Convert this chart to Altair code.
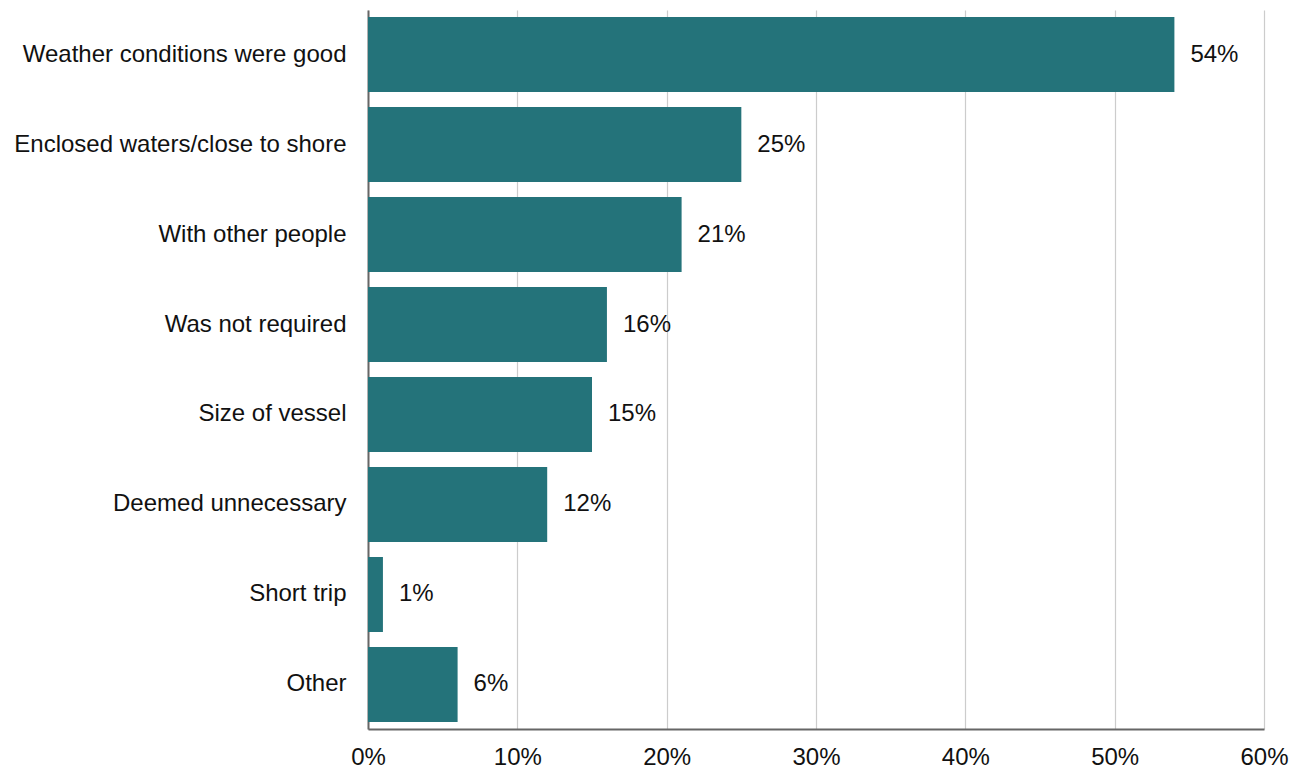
import altair as alt
import pandas as pd

categories = ["Weather conditions were good", "Enclosed waters/close to shore", "With other people",
              "Was not required", "Size of vessel", "Deemed unnecessary", "Short trip", "Other"]
values = [54, 25, 21, 16, 15, 12, 1, 6]
labels = ["54%", "25%", "21%", "16%", "15%", "12%", "1%", "6%"]

df = pd.DataFrame({"cat": categories, "val": [v / 100 for v in values], "lab": labels})

FONT = "Liberation Sans"
FS = 24

y = alt.Y("cat:N", sort=categories, title=None,
          scale=alt.Scale(paddingInner=0.167, paddingOuter=0.078),
          axis=alt.Axis(labelFont=FONT, labelFontSize=FS, labelColor="#111111", labelPadding=22,
                        ticks=False, grid=False, domainColor="#666666", domainWidth=2, labelLimit=400))
x = alt.X("val:Q", title=None, scale=alt.Scale(domain=[0, 0.6], nice=False),
          axis=alt.Axis(format=".0%", values=[0, 0.1, 0.2, 0.3, 0.4, 0.5, 0.6], labelFont=FONT,
                        labelFontSize=FS, labelColor="#111111", labelPadding=16, ticks=False,
                        domainColor="#666666", domainWidth=2, gridColor="#cccccc", gridWidth=1.2,
                        labelFlush=False))

bars = alt.Chart(df).mark_bar(color="#24737a").encode(x=x, y=y)
text = alt.Chart(df).mark_text(align="left", baseline="middle", dx=16, font=FONT, fontSize=FS,
                               color="#111111").encode(
    x="val:Q",
    y=alt.Y("cat:N", sort=categories),
    text="lab:N")

chart = (bars + text).properties(
    width=896, height=719,
    background="white",
    autosize=alt.AutoSizeParams(type="none"),
    padding={"left": 368, "top": 10, "right": 35, "bottom": 45},
).configure_view(strokeWidth=0, stroke="transparent")

chart.save("out.html", embed_options={"renderer": "svg", "actions": False})
